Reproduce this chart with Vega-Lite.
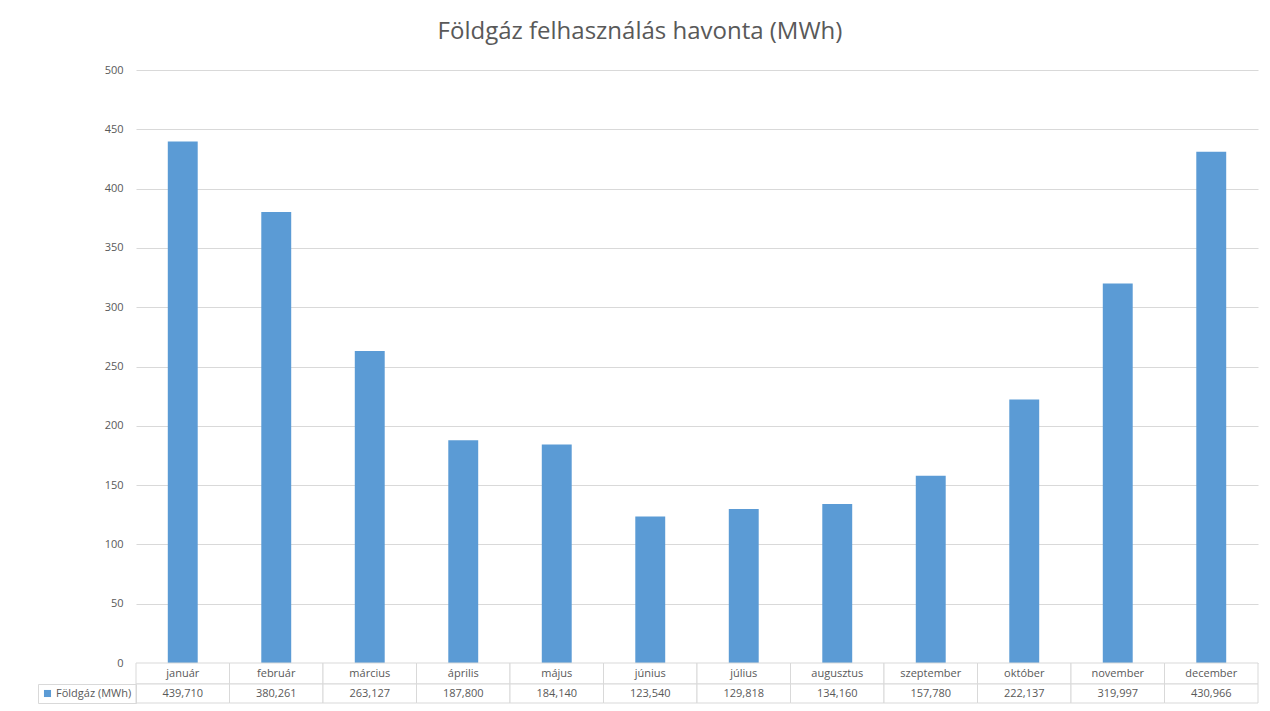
{
  "$schema": "https://vega.github.io/schema/vega-lite/v6.json",
  "background": "white",
  "padding": {"left": 37, "top": 20, "right": 12, "bottom": 6},
  "config": {
    "font": "Open Sans",
    "view": {"stroke": null},
    "locale": {"number": {"decimal": ",", "thousands": " ", "grouping": [3], "currency": ["", ""]}}
  },
  "title": {"text": "Földgáz felhasználás havonta (MWh)", "fontSize": 24, "font": "Open Sans", "fontWeight": "normal", "color": "#595959", "anchor": "middle", "offset": 20, "dx": -8},
  "datasets": {
    "gas": [
      {"honap": "január", "ertek": 439.71},
      {"honap": "február", "ertek": 380.261},
      {"honap": "március", "ertek": 263.127},
      {"honap": "április", "ertek": 187.8},
      {"honap": "május", "ertek": 184.14},
      {"honap": "június", "ertek": 123.54},
      {"honap": "július", "ertek": 129.818},
      {"honap": "augusztus", "ertek": 134.16},
      {"honap": "szeptember", "ertek": 157.78},
      {"honap": "október", "ertek": 222.137},
      {"honap": "november", "ertek": 319.997},
      {"honap": "december", "ertek": 430.966}
    ]
  },
  "vconcat": [
    {
      "width": 1122,
      "height": 593,
      "data": {"name": "gas"},
      "mark": {"type": "bar", "color": "#5b9bd5"},
      "encoding": {
        "x": {"field": "honap", "type": "nominal", "sort": null, "scale": {"paddingInner": 0.68, "paddingOuter": 0.34}, "axis": null},
        "y": {"field": "ertek", "type": "quantitative", "scale": {"domain": [0, 500], "nice": false},
          "axis": {"title": null, "values": [0, 50, 100, 150, 200, 250, 300, 350, 400, 450, 500], "domain": false, "ticks": false, "grid": true, "gridColor": "#d9d9d9", "labelColor": "#595959", "labelFontSize": 11, "labelPadding": 13, "format": "d"}}
      }
    },
    {
      "width": 1122,
      "height": 21,
      "data": {"name": "gas"},
      "layer": [
        {
          "mark": {"type": "rect", "fill": "white", "stroke": "#d9d9d9", "strokeWidth": 1},
          "encoding": {"x": {"field": "honap", "type": "nominal", "sort": null, "scale": {"padding": 0}, "axis": null}}
        },
        {
          "mark": {"type": "text", "fontSize": 11, "color": "#595959"},
          "encoding": {
            "x": {"field": "honap", "type": "nominal", "sort": null, "scale": {"padding": 0}, "axis": null},
            "text": {"field": "honap"}
          }
        }
      ]
    },
    {
      "width": 1122,
      "height": 19,
      "data": {"name": "gas"},
      "layer": [
        {
          "mark": {"type": "rect", "fill": "white", "stroke": "#d9d9d9", "strokeWidth": 1},
          "encoding": {"x": {"field": "honap", "type": "nominal", "sort": null, "scale": {"padding": 0}, "axis": null}}
        },
        {
          "mark": {"type": "text", "fontSize": 11, "color": "#595959"},
          "encoding": {
            "x": {"field": "honap", "type": "nominal", "sort": null, "scale": {"padding": 0}, "axis": null},
            "text": {"field": "ertek", "type": "quantitative", "format": ".3f"}
          }
        },
        {
          "mark": {"type": "point", "filled": true, "opacity": 0},
          "encoding": {
            "color": {"datum": "Földgáz (MWh)", "type": "nominal", "scale": {"range": ["#5b9bd5"]},
              "legend": {"title": null, "orient": "left", "offset": 0, "padding": 4, "strokeColor": "#d9d9d9", "symbolType": "square", "symbolSize": 50, "symbolOpacity": 1, "symbolStrokeWidth": 0, "labelFontSize": 11, "labelColor": "#595959", "labelOffset": 3}}
          }
        }
      ]
    }
  ],
  "spacing": 0,
  "bounds": "flush",
  "resolve": {"legend": {"color": "independent"}}
}
